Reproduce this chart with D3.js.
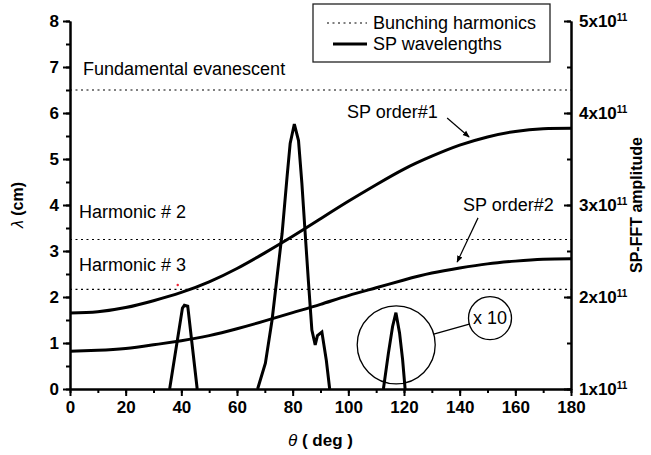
<!DOCTYPE html>
<html>
<head>
<meta charset="utf-8">
<script src="https://cdn.jsdelivr.net/npm/d3@7"></script>
<style>
  body { margin: 0; background: #fff; }
  svg { display: block; font-family: "Liberation Sans", Arial, Helvetica, sans-serif; }
  .axis path, .axis line { stroke: #000; stroke-width: 2; }
  .axis text { font-size: 17px; font-weight: bold; fill: #000; }
  .note { font-size: 18px; fill: #000; }
</style>
</head>
<body>
<div class="d3chart"></div>
<script>
// SP wavelength curves, lambda (cm) against theta (deg)
var theta    = [0, 10, 20, 30, 40, 50, 60, 70, 80, 90, 100, 110, 120, 130, 140, 150, 160, 170, 180];
var spOrder1 = [1.65, 1.68, 1.77, 1.92, 2.10, 2.33, 2.62, 2.96, 3.32, 3.70, 4.08, 4.44, 4.78, 5.06, 5.30, 5.48, 5.60, 5.66, 5.67];
var spOrder2 = [0.82, 0.84, 0.88, 0.96, 1.05, 1.16, 1.31, 1.48, 1.66, 1.84, 2.03, 2.20, 2.37, 2.52, 2.63, 2.72, 2.78, 2.82, 2.83];

// bunching harmonics (dotted lines)
var harmonicNames  = ["Fundamental evanescent", "Harmonic # 2", "Harmonic # 3"];
var harmonicLambda = [6.5, 3.25, 2.167];

// SP-FFT amplitude peaks (right axis)
var peak1Theta = [35.8, 40.4, 41.1, 42.3, 45.7];
var peak1Amp   = [1.0e11, 1.88e11, 1.91e11, 1.90e11, 1.0e11];
var peak2Theta = [67.4, 70.2, 72.6, 74.4, 76.2, 78.0, 79.1, 80.6, 82.1, 83.3, 84.5, 85.7, 86.9, 88.1, 88.9, 90.5, 92.1, 93.3];
var peak2Amp   = [1.0e11, 1.28e11, 1.75e11, 2.22e11, 2.69e11, 3.31e11, 3.67e11, 3.88e11, 3.70e11, 3.24e11, 2.69e11, 2.15e11, 1.64e11, 1.48e11, 1.58e11, 1.62e11, 1.31e11, 1.0e11];
var peak3Theta = [112.6, 114.4, 115.9, 117.1, 118.4, 119.5, 120.4];
var peak3Amp   = [1.0e11, 1.39e11, 1.68e11, 1.83e11, 1.61e11, 1.32e11, 1.0e11];

// ticks
var xTicks   = [0, 20, 40, 60, 80, 100, 120, 140, 160, 180];
var yTicks   = [0, 1, 2, 3, 4, 5, 6, 7, 8];
var ampTicks = [1e11, 2e11, 3e11, 4e11, 5e11];
var ampLabels = ["1x10", "2x10", "3x10", "4x10", "5x10"];

var margin = {top: 21, right: 80, bottom: 66, left: 70}
  , width = 651 - margin.left - margin.right
  , height = 455 - margin.top - margin.bottom;

var xScale = d3.scaleLinear().domain([0, 180]).range([0, width]);
var yScale = d3.scaleLinear().domain([0, 8]).range([height, 0]);
var ampScale = d3.scaleLinear().domain([1e11, 5e11]).range([height, 0]);

var svg = d3.select(".d3chart").append("svg")
    .attr("width", 651)
    .attr("height", 455)
  .append("g")
    .attr("transform", "translate(" + margin.left + "," + margin.top + ")");

// minor ticks first, then major ones with labels
var halfStep = function(a, b, s) { return d3.range(a, b + s / 2, s); };

svg.append("g").attr("class", "axis")
    .call(d3.axisLeft(yScale).tickValues(halfStep(0, 8, 0.5)).tickSize(4).tickSizeOuter(0).tickFormat(""));
svg.append("g").attr("class", "axis")
    .call(d3.axisLeft(yScale).tickValues(yTicks).tickSize(7).tickPadding(4).tickSizeOuter(0));

svg.append("g").attr("class", "axis")
    .attr("transform", "translate(0," + height + ")")
    .call(d3.axisBottom(xScale).tickValues(halfStep(0, 180, 10)).tickSize(4).tickSizeOuter(0).tickFormat(""));
svg.append("g").attr("class", "axis")
    .attr("transform", "translate(0," + height + ")")
    .call(d3.axisBottom(xScale).tickValues(xTicks).tickSize(7).tickPadding(5).tickSizeOuter(0));

svg.append("g").attr("class", "axis")
    .attr("transform", "translate(" + width + ",0)")
    .call(d3.axisRight(ampScale).tickValues(halfStep(1e11, 5e11, 0.5e11)).tickSize(-4).tickSizeOuter(0).tickFormat(""));
var rightAxis = svg.append("g").attr("class", "axis")
    .attr("transform", "translate(" + width + ",0)")
    .call(d3.axisRight(ampScale).tickValues(ampTicks).tickSize(-7).tickPadding(8).tickSizeOuter(0).tickFormat(""));

rightAxis.selectAll(".tick text").each(function(d, i) {
  var t = d3.select(this);
  t.append("tspan").text(ampLabels[i]);
  t.append("tspan").attr("dy", "-0.55em").style("font-size", "10px").text("11");
});

// axis titles
var yTitle = svg.append("text")
    .attr("transform", "translate(" + (23 - margin.left) + "," + (height / 2) + ") rotate(-90)")
    .attr("text-anchor", "middle")
    .style("font-size", "16px");
yTitle.append("tspan").style("font-style", "italic").text("\u03bb");
yTitle.append("tspan").style("font-weight", "bold").text(" (cm)");

var xTitle = svg.append("text")
    .attr("x", width / 2)
    .attr("y", height + 57)
    .attr("text-anchor", "middle")
    .style("font-size", "17px");
xTitle.append("tspan").style("font-style", "italic").text("\u03b8");
xTitle.append("tspan").style("font-weight", "bold").text(" ( deg )");

svg.append("text")
    .attr("transform", "translate(" + (width + 71) + "," + (height / 2) + ") rotate(-90)")
    .attr("text-anchor", "middle")
    .style("font-size", "16px")
    .style("font-weight", "bold")
    .text("SP-FFT amplitude");

// bunching harmonics
var labelGap = [15, 22, 18];
svg.selectAll(".harm")
    .data(harmonicLambda)
  .enter().append("line")
    .attr("class", "harm")
    .attr("x1", 0).attr("x2", width)
    .attr("y1", function(d) { return yScale(d); })
    .attr("y2", function(d) { return yScale(d); })
    .style("stroke", "#000")
    .style("stroke-width", 1.2)
    .style("stroke-dasharray", "2 3.5");

svg.selectAll(".harmLabel")
    .data(harmonicNames)
  .enter().append("text")
    .attr("class", "note")
    .attr("x", function(d, i) { return i == 0 ? 13 : 9; })
    .attr("y", function(d, i) { return yScale(harmonicLambda[i]) - labelGap[i]; })
    .text(function(d) { return d; });

// SP wavelength curves
var line = d3.line()
    .x(function(d, i) { return xScale(theta[i]); })
    .y(function(d) { return yScale(d); })
    .curve(d3.curveNatural);

[spOrder1, spOrder2].forEach(function(s) {
  svg.append("path")
    .datum(s)
    .attr("d", line)
    .style("fill", "none")
    .style("stroke", "#000")
    .style("stroke-width", 3);
});

// SP-FFT amplitude peaks
var ampLine = d3.line()
    .x(function(d) { return xScale(d[0]); })
    .y(function(d) { return ampScale(d[1]); });

[[peak1Theta, peak1Amp], [peak2Theta, peak2Amp], [peak3Theta, peak3Amp]].forEach(function(p) {
  svg.append("path")
    .datum(d3.zip(p[0], p[1]))
    .attr("d", ampLine)
    .style("fill", "none")
    .style("stroke", "#000")
    .style("stroke-width", 3)
    .style("stroke-linejoin", "miter");
});

// stray red dot in the original
svg.append("circle")
    .attr("cx", xScale(38.7)).attr("cy", yScale(2.26)).attr("r", 1.2)
    .style("fill", "#e23");

// x 10 magnifier callout
var big = {x: xScale(117.2), y: yScale(0.96), r: 39};
var small = {x: xScale(150.9), y: yScale(1.54), r: 21.5};
var dx = small.x - big.x, dy = small.y - big.y, dl = Math.sqrt(dx * dx + dy * dy);
[big, small].forEach(function(c) {
  svg.append("circle")
    .attr("cx", c.x).attr("cy", c.y).attr("r", c.r)
    .style("fill", "none").style("stroke", "#000").style("stroke-width", 1.3);
});
svg.append("line")
    .attr("x1", big.x + dx / dl * big.r).attr("y1", big.y + dy / dl * big.r)
    .attr("x2", small.x - dx / dl * small.r).attr("y2", small.y - dy / dl * small.r)
    .style("stroke", "#000").style("stroke-width", 1.3);
svg.append("text")
    .attr("class", "note")
    .attr("x", small.x).attr("y", small.y)
    .attr("dy", "0.35em")
    .attr("text-anchor", "middle")
    .text("x 10");

// arrows for the SP orders
svg.append("defs").append("marker")
    .attr("id", "arrow")
    .attr("viewBox", "0 0 10 10")
    .attr("refX", 9).attr("refY", 5)
    .attr("markerWidth", 7).attr("markerHeight", 7)
    .attr("markerUnits", "userSpaceOnUse")
    .attr("orient", "auto")
  .append("path")
    .attr("d", "M0,1 L10,5 L0,9 Z")
    .style("fill", "#000");

svg.append("text").attr("class", "note")
    .attr("x", xScale(99.5)).attr("y", yScale(5.89))
    .text("SP order#1");
svg.append("line")
    .attr("x1", xScale(135.5)).attr("y1", yScale(5.89))
    .attr("x2", xScale(143.4)).attr("y2", yScale(5.48))
    .style("stroke", "#000").style("stroke-width", 1.2)
    .attr("marker-end", "url(#arrow)");

svg.append("text").attr("class", "note")
    .attr("x", xScale(141.2)).attr("y", yScale(3.87))
    .text("SP order#2");
svg.append("line")
    .attr("x1", xScale(146.6)).attr("y1", yScale(3.72))
    .attr("x2", xScale(139.1)).attr("y2", yScale(2.76))
    .style("stroke", "#000").style("stroke-width", 1.2)
    .attr("marker-end", "url(#arrow)");

// legend
var legend = svg.append("g")
    .attr("transform", "translate(" + (313 - margin.left) + "," + (4 - margin.top) + ")");
legend.append("rect")
    .attr("width", 237).attr("height", 58)
    .style("fill", "#fff").style("stroke", "#222").style("stroke-width", 1.3);
legend.append("line")
    .attr("x1", 14).attr("x2", 54).attr("y1", 19).attr("y2", 19)
    .style("stroke", "#000").style("stroke-width", 1.2).style("stroke-dasharray", "2 3.5");
legend.append("line")
    .attr("x1", 20).attr("x2", 54).attr("y1", 40).attr("y2", 40)
    .style("stroke", "#000").style("stroke-width", 3);
legend.append("text").attr("class", "note")
    .attr("x", 60).attr("y", 19).attr("dy", "0.35em")
    .text("Bunching harmonics");
legend.append("text").attr("class", "note")
    .attr("x", 60).attr("y", 40).attr("dy", "0.35em")
    .text("SP wavelengths");
</script>
</body>
</html>
